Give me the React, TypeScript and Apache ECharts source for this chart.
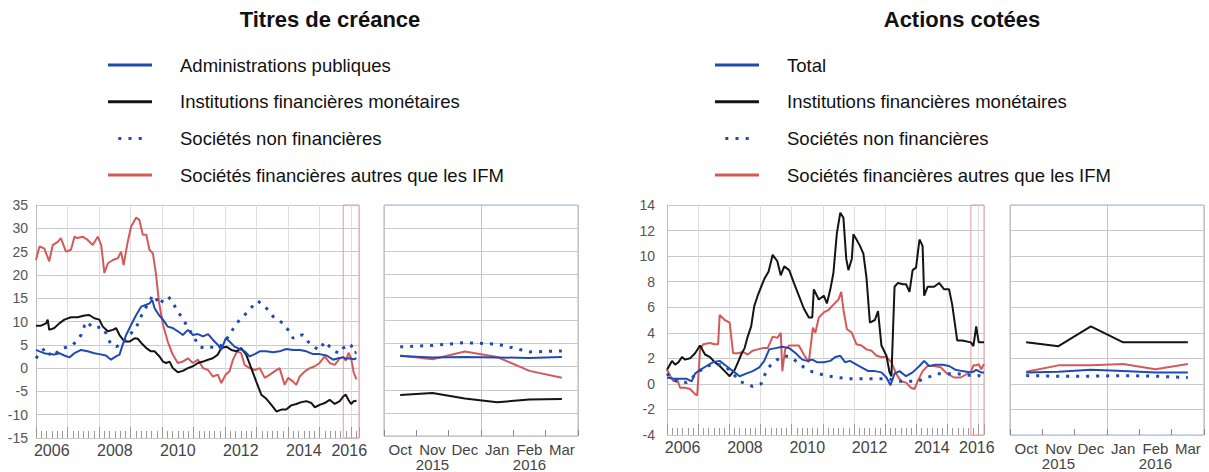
import React, { useEffect, useRef } from 'react';
import * as echarts from 'echarts';

// ---------- Shared panel categories (Oct 2015 – Mar 2016) ----------
const PANEL_MONTHS = ['Oct', 'Nov', 'Dec', 'Jan', 'Feb', 'Mar'];
const PANEL_YEARS = ['', '2015', '', '', '2016', ''];
const PANEL_DATES = [2015.75, 2015.83, 2015.92, 2016.0, 2016.08, 2016.17];

// ---------- Titres de créance: recent months ----------
const debtAPU_panel = [2.3, 2.0, 2.1, 2.0, 1.9, 2.1];
const debtIFM_panel = [-6.1, -5.7, -6.9, -7.7, -7.1, -7.0];
const debtSNF_panel = [4.3, 4.6, 5.2, 4.9, 3.2, 3.4];
const debtAIF_panel = [2.4, 1.6, 3.3, 2.1, -0.9, -2.4];

// ---------- Titres de créance: history [decimal year, %] ----------
const debtAPU_hist = [[2006.0,3.9],[2006.11,3.6],[2006.26,3.2],[2006.42,3.0],[2006.58,2.9],[2006.74,3.2],[2006.9,2.7],[2007.06,2.3],[2007.22,3.2],[2007.43,3.9],[2007.64,3.6],[2007.85,3.2],[2008.01,3.0],[2008.22,2.7],[2008.38,1.8],[2008.54,2.5],[2008.65,2.9],[2008.75,5.0],[2008.86,7.1],[2009.02,9.3],[2009.18,11.4],[2009.34,13.2],[2009.5,13.6],[2009.6,13.9],[2009.69,14.6],[2009.76,12.9],[2009.9,11.4],[2010.03,10.4],[2010.18,8.9],[2010.34,8.6],[2010.5,7.9],[2010.66,7.1],[2010.82,8.2],[2010.98,7.1],[2011.14,7.3],[2011.3,6.8],[2011.46,7.3],[2011.61,6.1],[2011.77,5.0],[2011.88,3.9],[2012.02,6.4],[2012.14,5.7],[2012.3,4.6],[2012.46,4.1],[2012.62,3.6],[2012.78,2.5],[2012.94,3.0],[2013.1,3.6],[2013.31,3.6],[2013.52,3.4],[2013.73,3.6],[2013.94,4.1],[2014.16,3.9],[2014.37,3.9],[2014.58,3.6],[2014.79,3.0],[2015.0,3.0],[2015.22,2.7],[2015.43,1.8],[2015.59,2.1]];
const debtIFM_hist = [[2006.0,9.1],[2006.16,9.1],[2006.32,9.6],[2006.37,10.4],[2006.42,8.2],[2006.58,8.6],[2006.74,9.6],[2006.9,10.4],[2007.11,10.9],[2007.32,10.9],[2007.54,11.3],[2007.69,11.4],[2007.85,10.7],[2008.01,10.4],[2008.12,8.9],[2008.28,7.9],[2008.44,8.2],[2008.54,8.6],[2008.65,7.1],[2008.81,5.7],[2008.97,5.7],[2009.13,6.4],[2009.23,6.3],[2009.34,5.4],[2009.5,4.3],[2009.65,3.6],[2009.76,3.6],[2009.92,2.5],[2010.03,1.4],[2010.13,1.1],[2010.24,1.4],[2010.34,0.0],[2010.5,-0.9],[2010.66,-0.6],[2010.82,0.0],[2010.98,0.4],[2011.14,1.1],[2011.3,1.4],[2011.46,1.8],[2011.61,2.1],[2011.77,2.9],[2011.88,4.3],[2012.04,4.6],[2012.2,3.9],[2012.36,3.6],[2012.51,4.3],[2012.67,2.9],[2012.83,0.0],[2012.99,-2.9],[2013.15,-5.7],[2013.31,-6.6],[2013.47,-7.9],[2013.63,-9.3],[2013.79,-8.9],[2013.94,-8.9],[2014.1,-8.0],[2014.26,-7.7],[2014.42,-7.3],[2014.58,-7.1],[2014.74,-7.5],[2014.85,-8.4],[2015.0,-7.9],[2015.16,-7.5],[2015.32,-6.8],[2015.48,-7.7],[2015.64,-7.1]];
const debtSNF_hist = [[2006.0,2.1],[2006.16,3.6],[2006.32,4.3],[2006.48,2.5],[2006.64,3.2],[2006.79,4.1],[2007.01,4.6],[2007.17,5.0],[2007.32,6.1],[2007.43,7.1],[2007.54,9.1],[2007.64,10.0],[2007.75,8.9],[2007.91,8.6],[2008.07,8.9],[2008.22,7.5],[2008.38,5.0],[2008.54,4.6],[2008.7,5.0],[2008.86,6.4],[2009.02,7.5],[2009.18,8.6],[2009.28,10.4],[2009.44,12.5],[2009.6,14.3],[2009.71,15.7],[2009.81,15.0],[2009.92,13.6],[2010.03,14.6],[2010.18,15.4],[2010.34,14.3],[2010.45,12.5],[2010.61,11.1],[2010.77,9.3],[2010.87,8.2],[2011.03,6.4],[2011.19,4.6],[2011.35,4.3],[2011.51,4.6],[2011.67,4.3],[2011.83,4.6],[2011.99,5.7],[2012.14,7.1],[2012.3,8.9],[2012.46,10.4],[2012.62,11.4],[2012.78,12.5],[2012.94,13.9],[2013.04,14.4],[2013.2,13.6],[2013.36,12.5],[2013.52,11.1],[2013.68,10.4],[2013.84,9.6],[2013.94,8.6],[2014.05,7.9],[2014.16,6.4],[2014.32,7.1],[2014.47,7.1],[2014.63,5.7],[2014.79,4.6],[2015.0,3.9],[2015.16,5.7],[2015.32,4.6],[2015.48,3.6],[2015.64,3.2]];
const debtAIF_hist = [[2006.0,23.2],[2006.11,26.1],[2006.26,25.7],[2006.42,22.9],[2006.53,26.4],[2006.69,27.1],[2006.79,27.9],[2006.95,25.0],[2007.11,25.4],[2007.22,28.2],[2007.32,27.9],[2007.48,28.2],[2007.64,27.5],[2007.8,26.4],[2007.96,28.2],[2008.07,26.4],[2008.17,20.4],[2008.28,22.5],[2008.44,23.2],[2008.6,23.6],[2008.7,25.0],[2008.78,22.1],[2008.91,27.1],[2009.02,30.4],[2009.18,32.3],[2009.28,31.8],[2009.39,28.6],[2009.5,28.6],[2009.6,25.4],[2009.71,24.6],[2009.81,20.0],[2009.9,14.3],[2010.03,9.3],[2010.18,5.7],[2010.34,2.9],[2010.5,1.1],[2010.66,1.4],[2010.82,2.1],[2010.98,1.1],[2011.14,1.8],[2011.3,0.0],[2011.46,-0.4],[2011.61,-1.8],[2011.77,-1.4],[2011.88,-3.2],[2012.02,-1.4],[2012.14,-0.7],[2012.25,1.8],[2012.38,3.6],[2012.51,3.2],[2012.62,0.7],[2012.78,0.0],[2012.94,-0.4],[2013.1,0.0],[2013.26,-2.1],[2013.42,-1.4],[2013.57,-0.7],[2013.73,0.0],[2013.89,-3.6],[2014.0,-2.1],[2014.16,-2.9],[2014.26,-3.6],[2014.37,-1.8],[2014.53,-0.7],[2014.69,0.0],[2014.85,0.4],[2015.0,1.1],[2015.16,2.5],[2015.32,1.1],[2015.48,0.7],[2015.64,2.1]];

// ---------- Actions cotées: recent months ----------
const eqTOT_panel = [0.9, 0.95, 1.1, 1.0, 0.9, 0.9];
const eqIFM_panel = [3.25, 2.95, 4.5, 3.25, 3.25, 3.25];
const eqSNF_panel = [0.65, 0.6, 0.6, 0.65, 0.6, 0.5];
const eqAIF_panel = [0.95, 1.45, 1.45, 1.55, 1.15, 1.55];

// ---------- Actions cotées: history [decimal year, %] ----------
const eqTOT_hist = [[2006.0,0.5],[2006.21,0.4],[2006.42,0.4],[2006.63,0.4],[2006.79,0.2],[2006.9,0.8],[2007.06,1.1],[2007.27,1.4],[2007.48,1.7],[2007.69,1.8],[2007.9,1.4],[2008.12,1.0],[2008.33,0.6],[2008.54,0.8],[2008.75,1.0],[2008.96,1.3],[2009.12,1.8],[2009.28,2.7],[2009.49,2.8],[2009.7,2.9],[2009.92,2.8],[2010.13,2.4],[2010.34,1.9],[2010.5,1.8],[2010.66,1.9],[2010.81,1.7],[2011.03,1.7],[2011.24,1.8],[2011.4,2.1],[2011.56,2.2],[2011.71,1.7],[2011.87,1.8],[2012.08,1.5],[2012.24,1.3],[2012.46,1.0],[2012.67,1.0],[2012.88,0.9],[2013.04,0.5],[2013.17,-0.1],[2013.3,0.8],[2013.46,1.0],[2013.67,0.6],[2013.88,0.9],[2014.1,1.4],[2014.25,1.8],[2014.41,1.4],[2014.62,1.5],[2014.84,1.5],[2015.05,1.4],[2015.26,1.1],[2015.47,1.0]];
const eqIFM_hist = [[2006.0,1.1],[2006.16,1.8],[2006.26,1.5],[2006.37,1.7],[2006.48,2.1],[2006.58,1.9],[2006.74,2.0],[2006.9,2.4],[2007.06,3.0],[2007.22,2.3],[2007.38,2.1],[2007.53,1.7],[2007.69,1.4],[2007.85,1.0],[2008.01,0.6],[2008.17,1.1],[2008.28,1.7],[2008.38,2.3],[2008.49,2.8],[2008.59,3.7],[2008.7,4.5],[2008.8,6.1],[2008.91,6.9],[2009.02,7.6],[2009.12,8.2],[2009.26,8.8],[2009.39,10.1],[2009.54,9.6],[2009.65,8.5],[2009.76,9.2],[2009.92,8.9],[2010.07,7.9],[2010.23,6.9],[2010.39,5.9],[2010.55,5.2],[2010.66,5.2],[2010.71,7.4],[2010.87,6.6],[2011.03,6.9],[2011.13,6.3],[2011.24,7.4],[2011.34,8.7],[2011.45,11.8],[2011.56,13.4],[2011.66,13.0],[2011.75,9.8],[2011.82,8.9],[2011.93,9.8],[2011.98,11.7],[2012.08,11.3],[2012.19,10.8],[2012.3,10.2],[2012.4,8.3],[2012.51,4.8],[2012.67,5.0],[2012.77,5.7],[2012.88,3.0],[2013.04,2.2],[2013.14,0.9],[2013.2,0.6],[2013.3,7.6],[2013.41,7.9],[2013.57,7.8],[2013.67,7.8],[2013.78,7.2],[2013.88,8.9],[2013.99,9.1],[2014.1,11.3],[2014.2,10.8],[2014.25,6.9],[2014.36,7.6],[2014.57,7.6],[2014.73,7.9],[2014.89,7.4],[2015.05,7.4],[2015.15,6.2],[2015.31,3.4],[2015.47,3.4]];
const eqSNF_hist = [[2006.0,0.8],[2006.16,0.4],[2006.32,0.2],[2006.48,0.2],[2006.63,0.1],[2006.79,0.4],[2006.95,0.9],[2007.11,1.1],[2007.27,1.4],[2007.48,1.5],[2007.69,1.5],[2007.9,1.3],[2008.12,0.8],[2008.33,0.2],[2008.54,0.0],[2008.75,-0.2],[2009.02,0.0],[2009.17,0.9],[2009.33,1.5],[2009.54,1.9],[2009.76,2.2],[2009.97,2.1],[2010.18,1.7],[2010.39,1.3],[2010.6,1.0],[2010.87,0.8],[2011.19,0.6],[2011.5,0.5],[2011.82,0.4],[2012.14,0.4],[2012.46,0.4],[2012.77,0.4],[2013.09,0.4],[2013.41,0.2],[2013.72,0.2],[2014.04,0.2],[2014.36,0.5],[2014.68,0.8],[2014.99,0.8],[2015.31,0.8]];
const eqAIF_hist = [[2006.0,1.1],[2006.11,0.6],[2006.21,0.2],[2006.32,0.4],[2006.42,-0.3],[2006.58,-0.3],[2006.74,-0.4],[2006.9,-0.8],[2006.97,-0.9],[2007.06,2.7],[2007.16,3.1],[2007.38,3.2],[2007.53,3.1],[2007.64,3.1],[2007.69,5.4],[2007.85,5.0],[2008.01,4.8],[2008.12,2.4],[2008.28,2.4],[2008.43,2.5],[2008.59,2.3],[2008.75,2.6],[2008.91,2.7],[2009.07,2.8],[2009.23,2.8],[2009.39,3.7],[2009.54,3.6],[2009.65,4.0],[2009.7,1.0],[2009.79,2.7],[2009.92,3.0],[2010.07,3.0],[2010.23,3.0],[2010.39,2.3],[2010.55,1.7],[2010.68,4.4],[2010.76,4.0],[2010.87,5.2],[2011.03,5.6],[2011.19,5.8],[2011.34,6.2],[2011.5,6.6],[2011.59,7.2],[2011.66,5.8],[2011.77,4.3],[2011.93,4.0],[2012.08,3.1],[2012.24,3.0],[2012.4,2.7],[2012.56,2.6],[2012.72,2.2],[2012.88,2.1],[2013.04,2.1],[2013.2,1.7],[2013.35,0.8],[2013.51,0.2],[2013.67,0.1],[2013.83,-0.3],[2013.94,-0.4],[2014.04,0.2],[2014.2,1.0],[2014.36,1.4],[2014.57,1.4],[2014.78,1.3],[2014.99,0.8],[2015.21,0.5],[2015.42,0.5]];

// ---------- Labels ----------
const TITLE_LEFT = 'Titres de créance';
const TITLE_RIGHT = 'Actions cotées';
const N_APU = 'Administrations publiques';
const N_TOT = 'Total';
const N_IFM = 'Institutions financières monétaires';
const N_SNF = 'Sociétés non financières';
const N_AIF = 'Sociétés financières autres que les IFM';
const YEAR_LABELS = [2006, 2008, 2010, 2012, 2014, 2016];

const FONT = 'Arial, "Liberation Sans", Helvetica, sans-serif';
const BLUE = '#1f4bb0';
const BLACK = '#141414';
const RED = '#d45a5a';
const DOT = [3, 7];
const DOT_ICON = 'path://M0,0h5v5h-5zM17,0h5v5h-5zM34,0h5v5h-5z';

const withTail = (hist: number[][], panel: number[]) =>
  hist.concat(PANEL_DATES.map((d, i) => [d, panel[i]]));

function mainX(gridIndex: number, max: number) {
  return {
    type: 'value', gridIndex, min: 2006, max, interval: 1,
    axisLine: { show: false, onZero: false },
    axisTick: { show: true, inside: true, length: 11, lineStyle: { color: '#999' } },
    minorTick: { show: true, splitNumber: 6, length: 7, lineStyle: { color: '#999' } },
    minorSplitLine: { show: false },
    splitLine: { show: true, lineStyle: { color: '#dedede', width: 1 } },
    axisLabel: {
      customValues: YEAR_LABELS.map((y) => (y === 2016 ? y - 0.06 : y + 0.5)),
      formatter: (v: number) => String(Math.floor(v + 0.1)),
      fontSize: 16, color: '#444', margin: 4, fontFamily: FONT,
    },
  };
}

function panelX(gridIndex: number) {
  return {
    type: 'category', gridIndex, data: PANEL_MONTHS, boundaryGap: true,
    axisLine: { show: false, onZero: false },
    axisTick: { show: true, inside: true, length: 6, lineStyle: { color: '#888' } },
    splitLine: { show: false },
    axisLabel: {
      interval: 0,
      formatter: (v: string, i: number) => (PANEL_YEARS[i] ? v + '\n' + PANEL_YEARS[i] : v),
      fontSize: 15, lineHeight: 15, color: '#444', margin: 6, fontFamily: FONT,
    },
  };
}

// hidden helper axis: draws the single year-change divider (between Dec and Jan)
function panelDivider(gridIndex: number) {
  return {
    type: 'value', gridIndex, min: 0, max: PANEL_MONTHS.length, interval: 3,
    position: 'top',
    axisLine: { show: false }, axisTick: { show: false }, axisLabel: { show: false },
    splitLine: { show: true, lineStyle: { color: '#c4c4c4' } },
  };
}

function yAx(gridIndex: number, min: number, max: number, interval: number, labels: boolean, margin = 8) {
  return {
    type: 'value', gridIndex, min, max, interval,
    axisLine: { show: labels, lineStyle: { color: '#bbb' } },
    axisTick: { show: false },
    splitLine: { show: true, lineStyle: { color: '#c9c9c9' } },
    axisLabel: { show: labels, fontSize: 14, color: '#555', margin, fontFamily: FONT },
  };
}

function line(name: string, xi: number, yi: number, data: any[], color: string, dotted = false, extra: any = {}) {
  return {
    type: 'line', name, xAxisIndex: xi, yAxisIndex: yi, data,
    showSymbol: false, symbol: 'none', silent: true,
    lineStyle: dotted ? { color, width: 3, type: DOT, cap: 'butt' } : { color, width: 2 },
    itemStyle: { color },
    ...extra,
  };
}

const highlight = (max: number) => ({
  markArea: {
    silent: true,
    itemStyle: { color: 'rgba(0,0,0,0)', borderColor: '#e59a9a', borderWidth: 1 },
    data: [[{ xAxis: 2015.75 }, { xAxis: max }]],
  },
});

const legendBase = (left: number, first: string) => ({
  orient: 'vertical', left, top: 50, itemWidth: 44, itemHeight: 3, itemGap: 16.7,
  selectedMode: false,
  data: [
    { name: first, icon: 'rect' },
    { name: N_IFM, icon: 'rect' },
    { name: N_SNF, icon: DOT_ICON },
    { name: N_AIF, icon: 'rect' },
  ],
  textStyle: { fontSize: 18.5, lineHeight: 20, color: '#111', fontFamily: FONT, padding: [0, 0, 0, 23] },
});

export default function App() {
  const ref = useRef<HTMLDivElement>(null);
  useEffect(() => {
    if (!ref.current) return;
    const chart = echarts.init(ref.current, undefined, { renderer: 'svg' });
    const LMAX = 2016.25;
    const RMAX = 2016.17;
    chart.setOption({
      animation: false,
      textStyle: { fontFamily: FONT },
      title: [
        { text: TITLE_LEFT, left: 325, top: 3, textAlign: 'center', textStyle: { fontSize: 22, fontWeight: 'bold', color: '#111', fontFamily: FONT } },
        { text: TITLE_RIGHT, left: 957, top: 3, textAlign: 'center', textStyle: { fontSize: 22, fontWeight: 'bold', color: '#111', fontFamily: FONT } },
      ],
      legend: [legendBase(103, N_APU), legendBase(710, N_TOT)],
      grid: [
        { left: 36, top: 205, width: 323, height: 233 },
        { left: 384, top: 205, width: 194, height: 233, show: true, borderColor: '#9fb2dc', borderWidth: 1, backgroundColor: 'transparent' },
        { left: 667, top: 205, width: 317, height: 230 },
        { left: 1010, top: 205, width: 194, height: 230, show: true, borderColor: '#9fb2dc', borderWidth: 1, backgroundColor: 'transparent' },
      ],
      // x axes: 0 left main, 1 left panel, 2 right main, 3 right panel, 4/5 panel dividers
      xAxis: [mainX(0, LMAX), panelX(1), mainX(2, RMAX), panelX(3), panelDivider(1), panelDivider(3)],
      yAxis: [
        yAx(0, -15, 35, 5, true),
        yAx(1, -15, 35, 5, false),
        yAx(2, -4, 14, 2, true, 12),
        yAx(3, -4, 14, 2, false),
      ],
      series: [
        // Titres de créance – main
        line(N_AIF, 0, 0, withTail(debtAIF_hist, debtAIF_panel), RED, false, highlight(LMAX)),
        line(N_IFM, 0, 0, withTail(debtIFM_hist, debtIFM_panel), BLACK),
        line(N_SNF, 0, 0, withTail(debtSNF_hist, debtSNF_panel), BLUE, true),
        line(N_APU, 0, 0, withTail(debtAPU_hist, debtAPU_panel), BLUE),
        // Titres de créance – panel
        line(N_AIF, 1, 1, debtAIF_panel, RED),
        line(N_IFM, 1, 1, debtIFM_panel, BLACK),
        line(N_SNF, 1, 1, debtSNF_panel, BLUE, true),
        line(N_APU, 1, 1, debtAPU_panel, BLUE),
        // Actions cotées – main
        line(N_AIF, 2, 2, withTail(eqAIF_hist, eqAIF_panel), RED, false, highlight(RMAX)),
        line(N_IFM, 2, 2, withTail(eqIFM_hist, eqIFM_panel), BLACK),
        line(N_SNF, 2, 2, withTail(eqSNF_hist, eqSNF_panel), BLUE, true),
        line(N_TOT, 2, 2, withTail(eqTOT_hist, eqTOT_panel), BLUE),
        // Actions cotées – panel
        line(N_AIF, 3, 3, eqAIF_panel, RED),
        line(N_IFM, 3, 3, eqIFM_panel, BLACK),
        line(N_SNF, 3, 3, eqSNF_panel, BLUE, true),
        line(N_TOT, 3, 3, eqTOT_panel, BLUE),
      ],
    });
    return () => chart.dispose();
  }, []);
  return <div ref={ref} style={{ position: 'absolute', left: 0, top: 0, width: 1209, height: 472, background: '#fff' }} />;
}
